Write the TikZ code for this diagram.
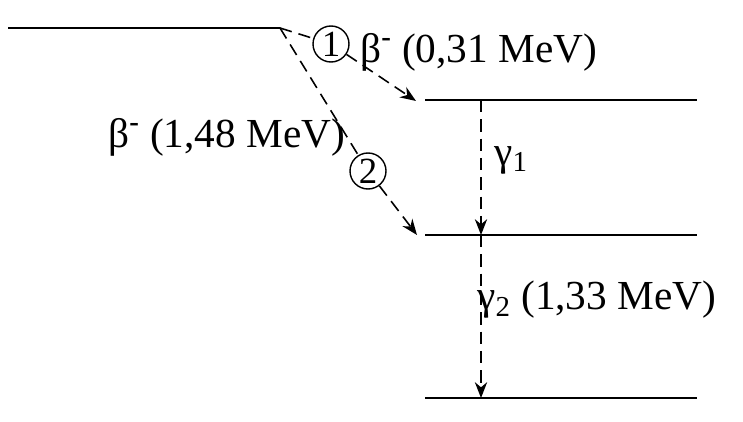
\documentclass[tikz,border=0pt]{standalone}
\usepackage{fontspec}
\setmainfont{Liberation Serif}
\usetikzlibrary{arrows.meta}
\begin{document}
\begin{tikzpicture}[x=0.02cm, y=-0.02cm,
  level/.style={line width=1.5pt},
  trans/.style={line width=0.9pt, dash pattern=on 7pt off 4pt, -{Stealth[length=9pt,width=7pt]}},
  num/.style={circle, draw, line width=0.8pt, inner sep=0pt, minimum size=36*0.02cm, font=\fontsize{21}{24}\selectfont},
  lbl/.style={font=\fontsize{23.5}{28}\selectfont, inner sep=0pt}]
 \useasboundingbox (0,0) rectangle (743,422);

 %%%%%%%%%% Levels %%%%%%%%%%
 \coordinate (a0) at (8,28);   \coordinate (a1) at (280,28);
 \coordinate (b0) at (425,100); \coordinate (b1) at (697,100);
 \coordinate (c0) at (425,235); \coordinate (c1) at (697,235);
 \coordinate (d0) at (425,398); \coordinate (d1) at (697,398);
 \draw [level] (a0) -- (a1);
 \draw [level] (b0) -- (b1);
 \draw [level] (c0) -- (c1);
 \draw [level] (d0) -- (d1);

 %%%%%%%%%% Beta transitions %%%%%%%%%%
 \node [num] (n1) at (331,44) {1};
 \node [num] (n2) at (368,171) {2};
 \coordinate (e1) at (416,101);
 \coordinate (e2) at (417,235);
 \draw [trans, -] (a1) -- (n1);
 \draw [trans] (n1) -- (e1);
 \draw [trans, -] (a1) -- (n2);
 \draw [trans] (n2) -- (e2);

 %%%%%%%%%% Gamma transitions %%%%%%%%%%
 \coordinate (g0) at (481,100); \coordinate (g1) at (481,235);
 \coordinate (g2) at (481,235); \coordinate (g3) at (481,398);
 \draw [trans] (g0) -- (g1);
 \draw [trans] (g2) -- (g3);

 %%%%%%%%%% Labels %%%%%%%%%%
 \node [lbl, anchor=west] (l1) at (360,52) {β\textsuperscript{\textbf{-}} (0,31 MeV)};
 \node [lbl, anchor=west] (l2) at (108,137) {β\textsuperscript{\textbf{-}} (1,48 MeV)};
 \node [lbl, anchor=west] (l3) at (494,160) {γ\textsubscript{1}};
 \node [lbl, anchor=west] (l4) at (477,300) {γ\textsubscript{2} (1,33 MeV)};
\end{tikzpicture}
\end{document}
